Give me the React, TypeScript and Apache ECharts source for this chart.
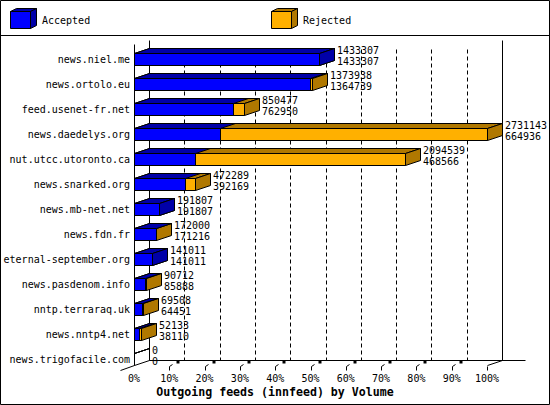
import React, { useEffect, useRef } from "react";
import * as echarts from "echarts";

const hosts = [
  "news.niel.me",
  "news.ortolo.eu",
  "feed.usenet-fr.net",
  "news.daedelys.org",
  "nut.utcc.utoronto.ca",
  "news.snarked.org",
  "news.mb-net.net",
  "news.fdn.fr",
  "eternal-september.org",
  "news.pasdenom.info",
  "nntp.terraraq.uk",
  "news.nntp4.net",
  "news.trigofacile.com",
];
const offered = [1433307, 1373938, 850477, 2731143, 2094539, 472289, 191807, 172000, 141011, 90712, 69508, 52133, 0];
const accepted = [1433307, 1364739, 762950, 664936, 468566, 392169, 191807, 171216, 141011, 85888, 64451, 38110, 0];
const tickLabels = ["0%", "10%", "20%", "30%", "40%", "50%", "60%", "70%", "80%", "90%", "100%"];
const legendNames = ["Accepted", "Rejected"];
const titleText = "Outgoing feeds (innfeed) by Volume";

const maxVolume = Math.max(...offered);

const BLUE = "#0000ff";
const BLUE_DARK = "#0000a8";
const ORANGE = "#ffb000";
const ORANGE_DARK = "#b07800";
const FONT = '"DejaVu Sans Mono", "Liberation Mono", monospace';
const DX = 15;
const DY = -5;
const HALF = 6;

const r = (v: number) => Math.round(v) + 0.5;

function faces(x0: number, x1: number, yc: number, front: string, dark: string, withSide: boolean, hollow: boolean) {
  const yt = r(yc - HALF);
  const yb = r(yc + HALF);
  const a = r(x0);
  const b = r(x1);
  const kids: any[] = [];
  if (!hollow) {
    kids.push({
      type: "rect",
      shape: { x: a, y: yt, width: b - a, height: yb - yt },
      style: { fill: front, stroke: "#000", lineWidth: 1 },
    });
  }
  kids.push({
    type: "polygon",
    shape: { points: [[a, yt], [b, yt], [b + DX, yt + DY], [a + DX, yt + DY]] },
    style: { fill: hollow ? "none" : dark, stroke: "#000", lineWidth: 1 },
  });
  if (withSide) {
    kids.push({
      type: "polygon",
      shape: { points: [[b, yt], [b + DX, yt + DY], [b + DX, yb + DY], [b, yb]] },
      style: { fill: hollow ? "none" : dark, stroke: "#000", lineWidth: 1 },
    });
  }
  return kids;
}

function cube(x: number, y: number, front: string, dark: string) {
  const w = 20, h = 17, dx = 6, dy = -3;
  return [
    { type: "rect", shape: { x, y, width: w, height: h }, style: { fill: front, stroke: "#000", lineWidth: 1 } },
    {
      type: "polygon",
      shape: { points: [[x, y], [x + w, y], [x + w + dx, y + dy], [x + dx, y + dy]] },
      style: { fill: dark, stroke: "#000", lineWidth: 1 },
    },
    {
      type: "polygon",
      shape: { points: [[x + w, y], [x + w + dx, y + dy], [x + w + dx, y + h + dy], [x + w, y + h]] },
      style: { fill: dark, stroke: "#000", lineWidth: 1 },
    },
  ];
}

export default function App() {
  const ref = useRef<HTMLDivElement>(null);

  useEffect(() => {
    document.body.style.margin = "0";
    if (!ref.current) return;
    const chart = echarts.init(ref.current, null, { renderer: "svg" });

    const last = hosts.length - 1;
    const rowData = hosts.map((_, i) => [
      (offered[i] / maxVolume) * 100,
      i,
      offered[i],
      accepted[i],
      (accepted[i] / maxVolume) * 100,
    ]);

    const option: any = {
      animation: false,
      backgroundColor: "#fff",
      grid: { left: 134, right: 63, top: 46.5, bottom: 33.5 },
      xAxis: {
        type: "value",
        min: 0,
        max: 100,
        interval: 10,
        axisLine: { show: false },
        axisTick: { show: false },
        splitLine: { show: false },
        axisLabel: {
          margin: 2,
          color: "#000",
          fontFamily: FONT,
          fontSize: 10,
          formatter: (v: number) => tickLabels[Math.round(v / 10)],
        },
      },
      yAxis: {
        type: "category",
        data: hosts,
        inverse: true,
        axisLine: { show: false },
        axisTick: { show: false },
        splitLine: { show: false },
        axisLabel: { margin: 4, color: "#000", fontFamily: FONT, fontSize: 10 },
      },
      graphic: [
        {
          type: "rect",
          shape: { x: 0.5, y: 0.5, width: 549, height: 404 },
          style: { fill: "none", stroke: "#000", lineWidth: 1 },
          z: 100,
        },
        {
          type: "line",
          shape: { x1: 0, y1: 35.5, x2: 550, y2: 35.5 },
          style: { stroke: "#000", lineWidth: 1 },
          z: 100,
        },
        ...cube(10.5, 11.5, BLUE, BLUE_DARK),
        ...cube(271.5, 11.5, ORANGE, ORANGE_DARK),
        {
          type: "text",
          x: 42,
          y: 20,
          style: { text: legendNames[0], fill: "#000", font: `10px ${FONT}`, align: "left", verticalAlign: "middle" },
        },
        {
          type: "text",
          x: 303,
          y: 20,
          style: { text: legendNames[1], fill: "#000", font: `10px ${FONT}`, align: "left", verticalAlign: "middle" },
        },
        {
          type: "text",
          x: 275,
          y: 392,
          style: {
            text: titleText,
            fill: "#000",
            font: `bold 11.6px ${FONT}`,
            align: "center",
            verticalAlign: "middle",
          },
        },
      ],
      series: [
        {
          type: "custom",
          name: "frame",
          clip: false,
          silent: true,
          data: [[0, 0]],
          renderItem: (_params: any, api: any) => {
            const top = api.coord([0, 0]);
            const bot = api.coord([0, last]);
            const right = api.coord([100, last]);
            const x0 = r(top[0]);
            const x100 = r(right[0]);
            const yTop = r(top[1] - 19);
            const yFront = r(bot[1] + HALF);
            const yFloor = yFront + DY;
            const kids: any[] = [];
            const ln = (x1: number, y1: number, x2: number, y2: number, dash?: number[]) =>
              kids.push({
                type: "line",
                shape: { x1, y1, x2, y2 },
                style: { stroke: "#000", lineWidth: 1, lineDash: dash },
              });
            // dashed grid lines on the back wall
            for (let k = 1; k < 10; k++) {
              const gx = r(api.coord([k * 10, 0])[0]) + DX;
              ln(gx, yTop + 9, gx, yFloor, [4, 3]);
            }
            // back walls
            ln(x0 + DX, yTop, x0 + DX, yFloor);
            ln(x100 + DX, yTop, x100 + DX, yFloor);
            // floor
            ln(x0 + DX, yFloor, x100 + DX + 23, yFloor);
            // front left axis
            ln(x0, yTop + 4, x0, yFront);
            ln(x0 - 14, yFront + 5, x0, yFront);
            ln(x100, yFront, x100 + DX, yFloor);
            // ticks
            for (let k = 1; k <= 10; k++) {
              const tx = r(api.coord([k * 10, 0])[0]);
              ln(tx, yFront + 5, tx, yFront + 1);
              if (k < 10) {
                ln(tx, yFront + 1, tx + 3, yFront - 1);
                kids.push({
                  type: "rect",
                  shape: { x: tx + 7, y: yFloor + 0.5, width: 3, height: 2.5 },
                  style: { fill: "#000" },
                });
              }
            }
            return { type: "group", children: kids };
          },
        },
        {
          type: "custom",
          name: legendNames[1],
          clip: false,
          data: rowData,
          renderItem: (_params: any, api: any) => {
            const idx = api.value(1);
            const p0 = api.coord([0, idx]);
            const p1 = api.coord([api.value(0), idx]);
            const off = api.value(2);
            const acc = api.value(3);
            const hollow = off === 0;
            const kids = faces(p0[0], p1[0], p0[1], ORANGE, ORANGE_DARK, true, hollow);
            kids.push({
              type: "text",
              x: Math.round(p1[0]) + 18,
              y: p0[1] - 9,
              z2: 10,
              style: { text: String(off), fill: "#000", font: `10px ${FONT}`, align: "left", verticalAlign: "middle" },
            });
            kids.push({
              type: "text",
              x: Math.round(p1[0]) + 18,
              y: p0[1] + 2,
              z2: 10,
              style: { text: String(acc), fill: "#000", font: `10px ${FONT}`, align: "left", verticalAlign: "middle" },
            });
            return { type: "group", children: kids };
          },
        },
        {
          type: "custom",
          name: legendNames[0],
          clip: false,
          data: rowData,
          renderItem: (_params: any, api: any) => {
            const idx = api.value(1);
            const off = api.value(2);
            const acc = api.value(3);
            if (acc === 0) return null;
            const p0 = api.coord([0, idx]);
            const p1 = api.coord([api.value(4), idx]);
            const kids = faces(p0[0], p1[0], p0[1], BLUE, BLUE_DARK, acc >= off, false);
            return { type: "group", children: kids };
          },
        },
      ],
    };

    chart.setOption(option);
    return () => chart.dispose();
  }, []);

  return <div ref={ref} style={{ width: 550, height: 405 }} />;
}
